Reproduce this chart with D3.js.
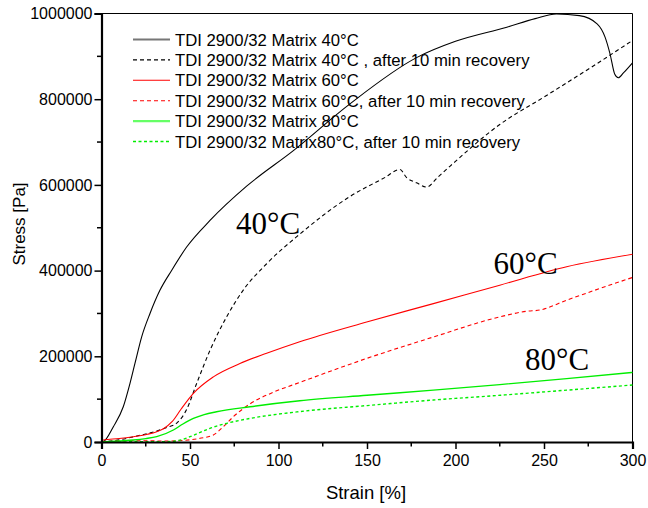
<!DOCTYPE html>
<html>
<head>
<meta charset="utf-8">
<script src="https://cdn.jsdelivr.net/npm/d3@7"></script>
<style>
  html, body { margin: 0; padding: 0; background: #fff; }
  svg { display: block; }
  text { font-family: Arial, "Liberation Sans", sans-serif; fill: #000; }
</style>
</head>
<body>
<svg id="chart" width="648" height="508"></svg>
<script>
// Stress–strain curves, [strain %, stress Pa]
const matrix40 = [[0,0],[1,700],[6.7,35700],[12.3,82300],[16.1,137000],[18.9,183500],[22.7,245500],[27.4,300000],[33,354000],[39.7,401000],[48.1,455000],[61.3,517000],[82,597000],[108.4,680000],[140,788000],[178,897000],[200,935000],[229,968000],[245,988000],[257,999000],[270,995000],[280,976000],[284.5,945000],[287.3,906000],[290,858000],[292,850000],[295,862000],[300,885000]];
const matrix40Rec = [[0,0],[10,5000],[20,14000],[30,24000],[36.8,34000],[42.5,44000],[48,75000],[53.8,137000],[61.3,214000],[70.7,292000],[80,354000],[93.3,416000],[112,485000],[140,572000],[160,617000],[168.6,636000],[172.4,617000],[178,605000],[183.7,595000],[190,618000],[197,644000],[225,741000],[250,805000],[275,870000],[300,937000]];
const matrix60 = [[0,0],[1,4600],[10,8000],[18,12400],[26,18000],[31.2,24000],[35,31000],[40,48000],[45,77000],[51.9,113500],[63.2,152000],[78.2,183000],[93.3,207000],[112,234000],[149.8,280000],[187.5,323000],[225,366000],[262.8,409000],[300,438000]];
const matrix60Rec = [[0,0],[10,2500],[20,3000],[36.8,2300],[50,5000],[55.6,8600],[63.2,16300],[68.8,35700],[74.5,59000],[83.9,89000],[97,116000],[112,139000],[149.8,195000],[187.5,245000],[225,292000],[240,305000],[247.7,308000],[262.8,331000],[300,384000]];
const matrix80 = [[0,0],[10,2500],[18,4700],[25,8000],[31.2,12400],[40.6,28000],[46,42000],[51.9,55000],[58,64000],[65,70600],[83.9,82300],[112,96300],[150,109000],[187.5,121000],[225,134000],[262.8,148000],[300,162500]];
const matrix80Rec = [[0,0],[20,500],[36.8,700],[45,5000],[50,12400],[55,21000],[61.3,32000],[70.7,43600],[83.9,55000],[112,71000],[150,85000],[187.5,98000],[225,109000],[262.8,121000],[300,133000]];

const legendLabels = [
  "TDI 2900/32 Matrix 40°C",
  "TDI 2900/32 Matrix 40°C , after 10 min recovery",
  "TDI 2900/32 Matrix 60°C",
  "TDI 2900/32 Matrix 60°C, after 10 min recovery",
  "TDI 2900/32 Matrix 80°C",
  "TDI 2900/32 Matrix80°C, after 10 min recovery"
];
const tempLabels = ["40°C", "60°C", "80°C"];
const xTicks = [0, 50, 100, 150, 200, 250, 300];
const yTicks = [0, 200000, 400000, 600000, 800000, 1000000];

const series = [
  { data: matrix40,    color: "#000000", dash: null,  width: 1.1, legColor: "#777", legWidth: 2.2 },
  { data: matrix40Rec, color: "#000000", dash: "4,3", width: 1.1 },
  { data: matrix60,    color: "#ff0000", dash: null,  width: 1.1 },
  { data: matrix60Rec, color: "#ff0000", dash: "4,3", width: 1.1 },
  { data: matrix80,    color: "#00ee00", dash: null,  width: 1.4, legColor: "#66ff66", legWidth: 2.4 },
  { data: matrix80Rec, color: "#00ee00", dash: "3,2.5", width: 1.4 }
];

const svg = d3.select("#chart");
const x = d3.scaleLinear().domain([0, 300]).range([101.5, 632.5]);
const y = d3.scaleLinear().domain([0, 1000000]).range([442, 13.5]);

// frame (top and right)
svg.append("path")
  .attr("d", `M${x(0)},${y(1000000)}H${x(300)}V${y(0)}`)
  .attr("fill", "none").attr("stroke", "#000").attr("stroke-width", 1);

// curves
const line = d3.line().x(d => x(d[0])).y(d => y(d[1])).curve(d3.curveMonotoneX);
const plot = svg.append("g");
series.forEach(s => {
  plot.append("path")
    .attr("d", line(s.data))
    .attr("fill", "none")
    .attr("stroke", s.color)
    .attr("stroke-width", s.width)
    .attr("stroke-dasharray", s.dash);
});

// x axis
const xAxis = svg.append("g").attr("transform", `translate(0,${y(0)})`)
  .call(d3.axisBottom(x).tickValues(xTicks).tickFormat(d3.format("d")).tickSizeOuter(0).tickSize(7).tickPadding(6));
xAxis.append("g").selectAll("line")
  .data(d3.range(25, 300, 50)).join("line")
  .attr("x1", d => x(d)).attr("x2", d => x(d)).attr("y1", 0).attr("y2", 4.5)
  .attr("stroke", "#000").attr("stroke-width", 1.5);

// y axis
const yAxis = svg.append("g").attr("transform", `translate(${x(0)},0)`)
  .call(d3.axisLeft(y).tickValues(yTicks).tickFormat(d3.format("d")).tickSizeOuter(0).tickSize(7).tickPadding(2));
yAxis.append("g").selectAll("line")
  .data(d3.range(100000, 1000000, 200000)).join("line")
  .attr("y1", d => y(d)).attr("y2", d => y(d)).attr("x1", 0).attr("x2", -4.5)
  .attr("stroke", "#000").attr("stroke-width", 1.5);

[xAxis, yAxis].forEach(a => {
  a.select(".domain").attr("stroke-width", 2.2);
  a.selectAll(".tick line").attr("stroke-width", 1.5);
  a.selectAll(".tick text").style("font-size", "16px").style("font-family", "Arial, 'Liberation Sans', sans-serif");
});

// axis titles
svg.append("text").attr("x", 366).attr("y", 499).attr("text-anchor", "middle")
  .style("font-size", "18.5px").text("Strain [%]");
svg.append("text").attr("transform", "translate(25,224) rotate(-90)").attr("text-anchor", "middle")
  .style("font-size", "17px").text("Stress [Pa]");

// legend
const leg = svg.append("g");
legendLabels.forEach((t, i) => {
  const cy = 39.5 + i * 20.4;
  const s = series[i];
  leg.append("line").attr("x1", 133).attr("x2", 170).attr("y1", cy).attr("y2", cy)
    .attr("stroke", s.legColor || s.color)
    .attr("stroke-width", s.legWidth || s.width)
    .attr("stroke-dasharray", s.dash);
  leg.append("text").attr("x", 175).attr("y", cy + 6).style("font-size", "16.7px").text(t);
});

// temperature annotations
const tempPos = [[236, 234], [493.5, 273.5], [525, 369.5]];
tempLabels.forEach((t, i) => {
  svg.append("text").attr("x", tempPos[i][0]).attr("y", tempPos[i][1])
    .style("font-family", "'Liberation Serif', 'Times New Roman', serif")
    .style("font-size", "31px").text(t);
});
</script>
</body>
</html>
